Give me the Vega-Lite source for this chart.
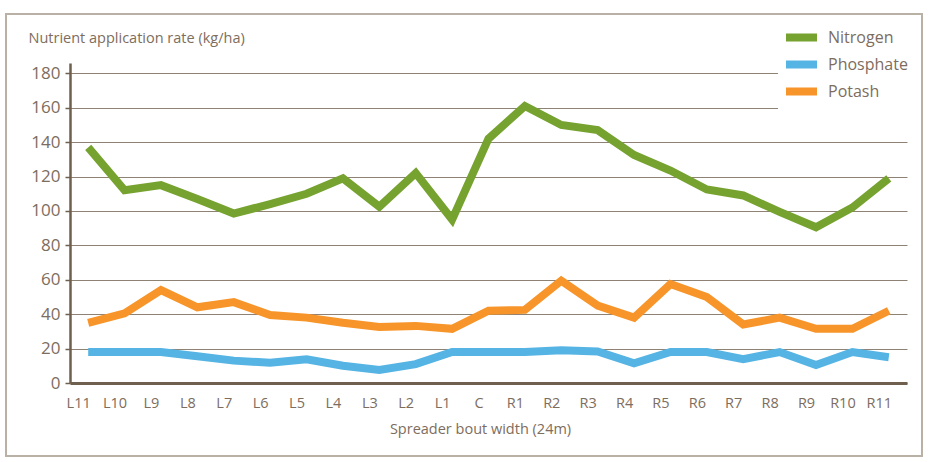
{
  "$schema": "https://vega.github.io/schema/vega-lite/v6.json",
  "width": 916,
  "height": 442,
  "autosize": "none",
  "padding": {"left": 6, "top": 14, "right": 8, "bottom": 6},
  "background": "white",
  "config": {
    "font": "Open Sans",
    "view": {"stroke": "#b9b0a6", "strokeWidth": 2}
  },
  "data": {
    "values": [
      {"pos": "L11", "nutrient": "Nitrogen", "rate": 137},
      {"pos": "L10", "nutrient": "Nitrogen", "rate": 112},
      {"pos": "L9", "nutrient": "Nitrogen", "rate": 115},
      {"pos": "L8", "nutrient": "Nitrogen", "rate": 107},
      {"pos": "L7", "nutrient": "Nitrogen", "rate": 98.5},
      {"pos": "L6", "nutrient": "Nitrogen", "rate": 104},
      {"pos": "L5", "nutrient": "Nitrogen", "rate": 110},
      {"pos": "L4", "nutrient": "Nitrogen", "rate": 119},
      {"pos": "L3", "nutrient": "Nitrogen", "rate": 102.5},
      {"pos": "L2", "nutrient": "Nitrogen", "rate": 122},
      {"pos": "L1", "nutrient": "Nitrogen", "rate": 95},
      {"pos": "C", "nutrient": "Nitrogen", "rate": 142},
      {"pos": "R1", "nutrient": "Nitrogen", "rate": 161},
      {"pos": "R2", "nutrient": "Nitrogen", "rate": 150},
      {"pos": "R3", "nutrient": "Nitrogen", "rate": 147},
      {"pos": "R4", "nutrient": "Nitrogen", "rate": 132.5},
      {"pos": "R5", "nutrient": "Nitrogen", "rate": 123.5},
      {"pos": "R6", "nutrient": "Nitrogen", "rate": 112.5},
      {"pos": "R7", "nutrient": "Nitrogen", "rate": 109},
      {"pos": "R8", "nutrient": "Nitrogen", "rate": 99.5},
      {"pos": "R9", "nutrient": "Nitrogen", "rate": 90.5},
      {"pos": "R10", "nutrient": "Nitrogen", "rate": 102},
      {"pos": "R11", "nutrient": "Nitrogen", "rate": 119},
      {"pos": "L11", "nutrient": "Phosphate", "rate": 18},
      {"pos": "L10", "nutrient": "Phosphate", "rate": 18},
      {"pos": "L9", "nutrient": "Phosphate", "rate": 18},
      {"pos": "L8", "nutrient": "Phosphate", "rate": 15.5},
      {"pos": "L7", "nutrient": "Phosphate", "rate": 13},
      {"pos": "L6", "nutrient": "Phosphate", "rate": 11.8},
      {"pos": "L5", "nutrient": "Phosphate", "rate": 13.8},
      {"pos": "L4", "nutrient": "Phosphate", "rate": 10},
      {"pos": "L3", "nutrient": "Phosphate", "rate": 7.6},
      {"pos": "L2", "nutrient": "Phosphate", "rate": 11},
      {"pos": "L1", "nutrient": "Phosphate", "rate": 18},
      {"pos": "C", "nutrient": "Phosphate", "rate": 18},
      {"pos": "R1", "nutrient": "Phosphate", "rate": 18},
      {"pos": "R2", "nutrient": "Phosphate", "rate": 19},
      {"pos": "R3", "nutrient": "Phosphate", "rate": 18.3},
      {"pos": "R4", "nutrient": "Phosphate", "rate": 11.5},
      {"pos": "R5", "nutrient": "Phosphate", "rate": 18},
      {"pos": "R6", "nutrient": "Phosphate", "rate": 18},
      {"pos": "R7", "nutrient": "Phosphate", "rate": 13.8},
      {"pos": "R8", "nutrient": "Phosphate", "rate": 18},
      {"pos": "R9", "nutrient": "Phosphate", "rate": 10.5},
      {"pos": "R10", "nutrient": "Phosphate", "rate": 18},
      {"pos": "R11", "nutrient": "Phosphate", "rate": 15},
      {"pos": "L11", "nutrient": "Potash", "rate": 35},
      {"pos": "L10", "nutrient": "Potash", "rate": 40.5},
      {"pos": "L9", "nutrient": "Potash", "rate": 54},
      {"pos": "L8", "nutrient": "Potash", "rate": 44},
      {"pos": "L7", "nutrient": "Potash", "rate": 47},
      {"pos": "L6", "nutrient": "Potash", "rate": 39.5},
      {"pos": "L5", "nutrient": "Potash", "rate": 38},
      {"pos": "L4", "nutrient": "Potash", "rate": 35},
      {"pos": "L3", "nutrient": "Potash", "rate": 32.5},
      {"pos": "L2", "nutrient": "Potash", "rate": 33.2},
      {"pos": "L1", "nutrient": "Potash", "rate": 31.5},
      {"pos": "C", "nutrient": "Potash", "rate": 42},
      {"pos": "R1", "nutrient": "Potash", "rate": 42.5},
      {"pos": "R2", "nutrient": "Potash", "rate": 59.5},
      {"pos": "R3", "nutrient": "Potash", "rate": 45},
      {"pos": "R4", "nutrient": "Potash", "rate": 38},
      {"pos": "R5", "nutrient": "Potash", "rate": 57.5},
      {"pos": "R6", "nutrient": "Potash", "rate": 50},
      {"pos": "R7", "nutrient": "Potash", "rate": 34},
      {"pos": "R8", "nutrient": "Potash", "rate": 38},
      {"pos": "R9", "nutrient": "Potash", "rate": 31.5},
      {"pos": "R10", "nutrient": "Potash", "rate": 31.5},
      {"pos": "R11", "nutrient": "Potash", "rate": 42}
    ]
  },
  "mark": {"type": "line", "strokeWidth": 8, "strokeCap": "butt", "strokeJoin": "miter"},
  "encoding": {
    "x": {
      "field": "pos",
      "type": "ordinal",
      "sort": ["L11","L10","L9","L8","L7","L6","L5","L4","L3","L2","L1","C","R1","R2","R3","R4","R5","R6","R7","R8","R9","R10","R11"],
      "scale": {"type": "point", "range": [64, 901], "padding": 0.5},
      "axis": {
        "title": "Spreader bout width (24m)",
        "offset": -73,
        "labelAngle": 0,
        "labelFontSize": 14.5,
        "labelColor": "#7d6d5e",
        "labelPadding": 13,
        "labelOffset": -10,
        "ticks": false,
        "grid": false,
        "domainColor": "#6f5f4f",
        "domainWidth": 3,
        "titleFontSize": 14.5,
        "titleFontWeight": "normal",
        "titleColor": "#7d6d5e",
        "titlePadding": 13,
        "titleX": 474
      }
    },
    "y": {
      "field": "rate",
      "type": "quantitative",
      "scale": {"domain": [0, 186], "nice": false, "range": [369, 49]},
      "axis": {
        "title": "Nutrient application rate (kg/ha)",
        "offset": -64,
        "values": [0, 20, 40, 60, 80, 100, 120, 140, 160, 180],
        "labelFontSize": 17,
        "labelColor": "#7d6d5e",
        "labelPadding": 5,
        "tickSize": 5,
        "tickColor": "#6f5f4f",
        "tickWidth": 1.5,
        "domainColor": "#6f5f4f",
        "domainWidth": 2.5,
        "gridColor": "#8e8274",
        "gridWidth": 1,
        "gridOpacity": 1,
        "titleAngle": 0,
        "titleAlign": "left",
        "titleBaseline": "middle",
        "titleX": -42,
        "titleY": 24,
        "titleFontSize": 14.5,
        "titleFontWeight": "normal",
        "titleColor": "#7d6d5e"
      }
    },
    "color": {
      "field": "nutrient",
      "type": "nominal",
      "scale": {"domain": ["Nitrogen", "Phosphate", "Potash"], "range": ["#76a22f", "#56b4e4", "#f7952a"]},
      "legend": {
        "title": null,
        "orient": "none",
        "legendX": 772,
        "legendY": 2,
        "padding": 8,
        "fillColor": "white",
        "symbolType": "M-2,0H2",
        "symbolSize": 324,
        "symbolStrokeWidth": 8,
        "labelFontSize": 16,
        "labelColor": "#7d6d5e",
        "labelOffset": 16,
        "clipHeight": 27,
        "rowPadding": 0
      }
    }
  }
}
